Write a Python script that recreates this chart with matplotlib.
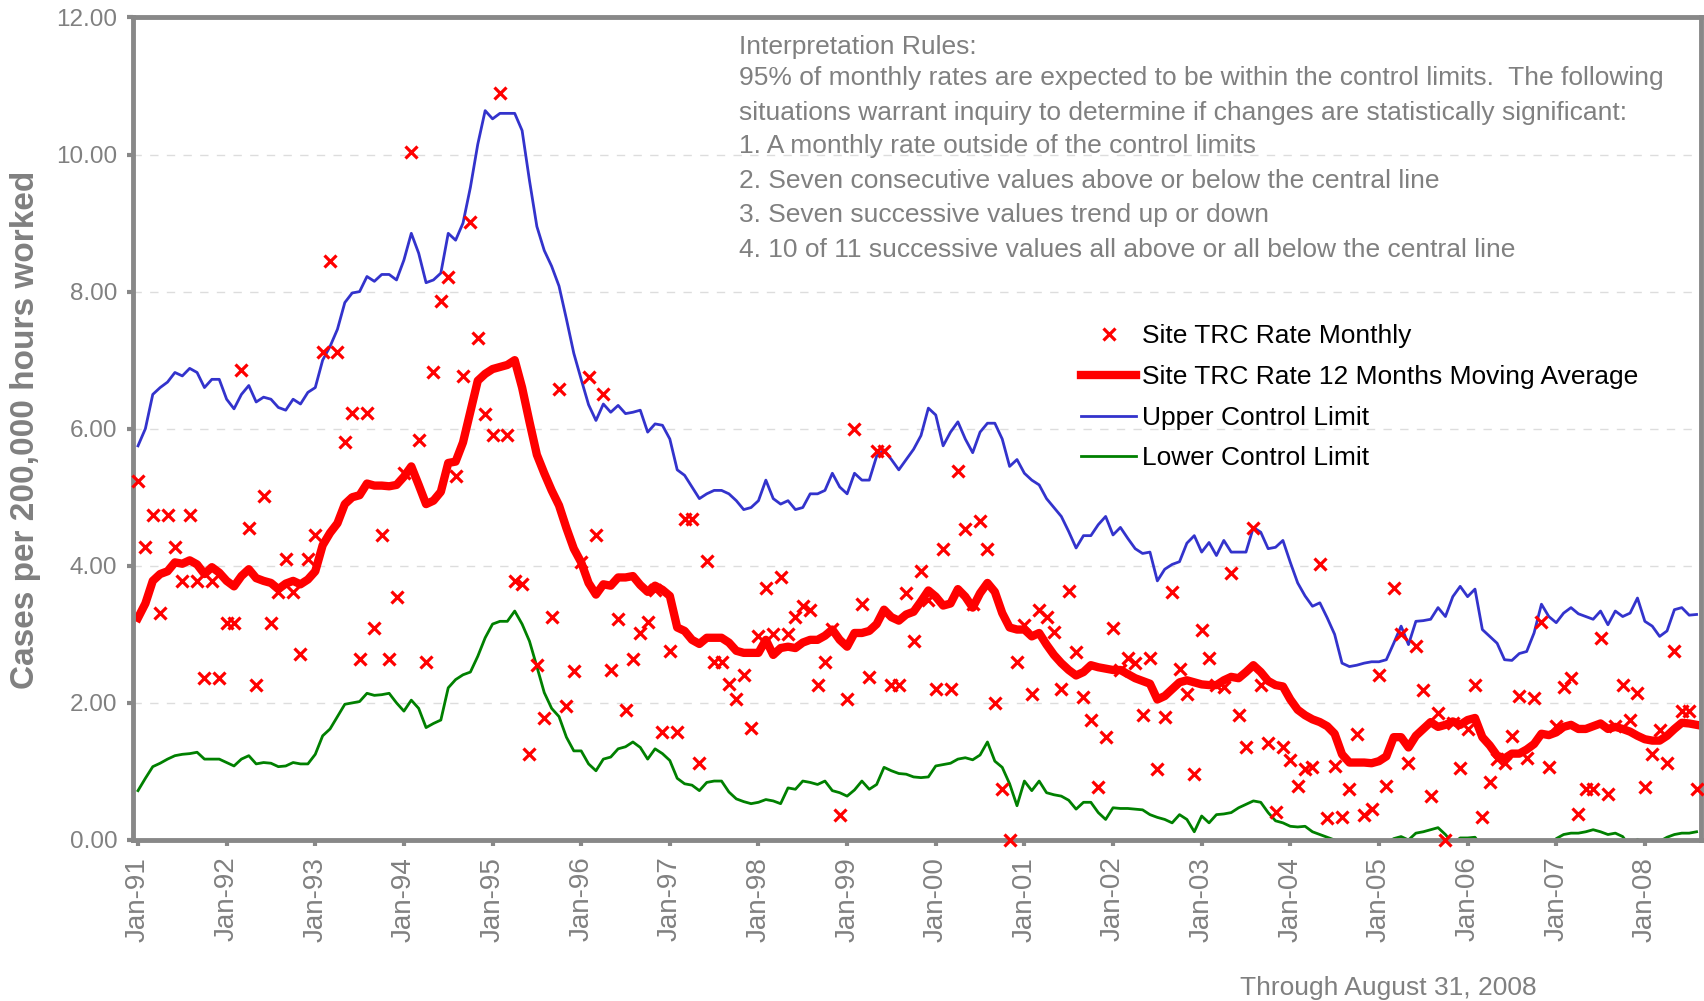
import matplotlib
matplotlib.use('Agg')
import matplotlib.pyplot as plt
import numpy as np

plt.rcParams['font.family'] = ['Liberation Sans', 'DejaVu Sans']

# monthly values, Jan-91 .. Aug-08 (one row per year)
monthly_rate = [
    5.23, 4.27, 4.74, 3.31, 4.74, 4.27, 3.78, 4.74, 3.78, 2.36, 3.78, 2.36,
    3.17, 3.17, 6.85, 4.55, 2.26, 5.02, 3.17, 3.62, 4.10, 3.62, 2.72, 4.10,
    4.45, 7.12, 8.45, 7.12, 5.81, 6.23, 2.64, 6.23, 3.09, 4.45, 2.64, 3.54,
    5.35, 10.04, 5.84, 2.59, 6.82, 7.87, 8.22, 5.31, 6.77, 9.02, 7.33, 6.22,
    5.91, 10.89, 5.91, 3.78, 3.73, 1.26, 2.55, 1.78, 3.26, 6.58, 1.95, 2.46,
    4.06, 6.75, 4.45, 6.50, 2.48, 3.22, 1.90, 2.64, 3.02, 3.18, 3.65, 1.57,
    2.76, 1.57, 4.69, 4.69, 1.12, 4.07, 2.59, 2.59, 2.28, 2.06, 2.41, 1.64,
    2.98, 3.67, 3.00, 3.83, 3.00, 3.26, 3.42, 3.36, 2.26, 2.59, 3.08, 0.36,
    2.05, 6.00, 3.45, 2.38, 5.67, 5.67, 2.26, 2.26, 3.60, 2.91, 3.93, 3.50,
    2.21, 4.25, 2.21, 5.38, 4.53, 3.45, 4.66, 4.25, 2.00, 0.74, 0.00, 2.59,
    3.13, 2.13, 3.35, 3.25, 3.03, 2.21, 3.63, 2.74, 2.08, 1.75, 0.77, 1.50,
    3.09, 2.48, 2.65, 2.58, 1.82, 2.65, 1.03, 1.79, 3.62, 2.50, 2.13, 0.96,
    3.07, 2.65, 2.26, 2.23, 3.89, 1.83, 1.36, 4.55, 2.26, 1.41, 0.41, 1.36,
    1.17, 0.79, 1.03, 1.07, 4.02, 0.32, 1.08, 0.33, 0.74, 1.55, 0.37, 0.45,
    2.41, 0.79, 3.68, 3.01, 1.12, 2.83, 2.19, 0.64, 1.85, 0.00, 1.71, 1.05,
    1.62, 2.26, 0.33, 0.84, 1.18, 1.13, 1.52, 2.10, 1.20, 2.07, 3.18, 1.07,
    1.66, 2.23, 2.36, 0.38, 0.74, 0.74, 2.95, 0.67, 1.67, 2.26, 1.75, 2.15,
    0.77, 1.25, 1.60, 1.13, 2.76, 1.88, 1.88, 0.74,
]

moving_avg = [
    3.24, 3.45, 3.78, 3.88, 3.92, 4.05, 4.03, 4.08, 4.02, 3.88, 3.98, 3.90,
    3.78, 3.70, 3.85, 3.95, 3.82, 3.78, 3.75, 3.66, 3.74, 3.78, 3.73, 3.80,
    3.92, 4.30, 4.48, 4.62, 4.90, 5.00, 5.03, 5.20, 5.17, 5.17, 5.16, 5.18,
    5.30, 5.45, 5.18, 4.90, 4.95, 5.08, 5.50, 5.52, 5.80, 6.25, 6.70, 6.80,
    6.87, 6.90, 6.93, 7.00, 6.60, 6.10, 5.62, 5.35, 5.10, 4.88, 4.55, 4.25,
    4.05, 3.75, 3.58, 3.73, 3.71, 3.83, 3.83, 3.85, 3.72, 3.62, 3.71, 3.65,
    3.56, 3.10, 3.05, 2.92, 2.86, 2.95, 2.95, 2.95, 2.88, 2.76, 2.73, 2.73,
    2.73, 2.92, 2.70, 2.80, 2.82, 2.80, 2.88, 2.92, 2.92, 2.98, 3.07, 2.92,
    2.82, 3.02, 3.02, 3.05, 3.15, 3.36, 3.25, 3.20, 3.29, 3.33, 3.48, 3.64,
    3.55, 3.42, 3.45, 3.66, 3.55, 3.39, 3.60, 3.75, 3.62, 3.31, 3.10, 3.07,
    3.07, 2.97, 3.02, 2.85, 2.70, 2.58, 2.48, 2.40, 2.45, 2.55, 2.52, 2.50,
    2.48, 2.48, 2.42, 2.36, 2.32, 2.28, 2.05, 2.10, 2.20, 2.30, 2.33, 2.30,
    2.27, 2.26, 2.26, 2.33, 2.38, 2.36, 2.45, 2.55, 2.45, 2.32, 2.26, 2.24,
    2.05, 1.90, 1.82, 1.76, 1.72, 1.66, 1.55, 1.25, 1.13, 1.13, 1.13, 1.12,
    1.15, 1.22, 1.50, 1.50, 1.35, 1.52, 1.62, 1.72, 1.65, 1.68, 1.73, 1.68,
    1.75, 1.78, 1.50, 1.38, 1.23, 1.19, 1.26, 1.26, 1.32, 1.40, 1.55, 1.53,
    1.57, 1.65, 1.68, 1.62, 1.62, 1.66, 1.70, 1.62, 1.65, 1.62, 1.58, 1.52,
    1.47, 1.45, 1.45, 1.52, 1.62, 1.71, 1.70, 1.68,
]

ucl = [
    5.75, 6.00, 6.50, 6.60, 6.68, 6.82, 6.77, 6.88, 6.82, 6.60, 6.72, 6.72,
    6.43, 6.29, 6.50, 6.63, 6.39, 6.46, 6.43, 6.31, 6.27, 6.43, 6.36, 6.53,
    6.60, 7.00, 7.20, 7.45, 7.84, 7.98, 8.00, 8.22, 8.15, 8.25, 8.25, 8.17,
    8.46, 8.85, 8.56, 8.13, 8.17, 8.27, 8.85, 8.75, 9.00, 9.52, 10.15, 10.64,
    10.52, 10.60, 10.60, 10.60, 10.35, 9.62, 8.95, 8.60, 8.37, 8.08, 7.60, 7.10,
    6.72, 6.35, 6.12, 6.36, 6.24, 6.34, 6.22, 6.24, 6.27, 5.95, 6.07, 6.05,
    5.85, 5.40, 5.32, 5.15, 4.98, 5.05, 5.10, 5.10, 5.05, 4.95, 4.82, 4.85,
    4.95, 5.25, 4.98, 4.90, 4.95, 4.82, 4.85, 5.05, 5.05, 5.10, 5.35, 5.15,
    5.05, 5.35, 5.25, 5.25, 5.60, 5.69, 5.55, 5.40, 5.55, 5.70, 5.90, 6.30,
    6.20, 5.75, 5.95, 6.10, 5.85, 5.65, 5.95, 6.08, 6.08, 5.85, 5.45, 5.55,
    5.35, 5.25, 5.18, 4.98, 4.85, 4.72, 4.50, 4.26, 4.44, 4.44, 4.60, 4.72,
    4.45, 4.56, 4.40, 4.25, 4.18, 4.20, 3.78, 3.95, 4.02, 4.06, 4.33, 4.44,
    4.20, 4.34, 4.15, 4.37, 4.20, 4.20, 4.20, 4.56, 4.49, 4.25, 4.27, 4.37,
    4.05, 3.75, 3.56, 3.41, 3.46, 3.24, 3.00, 2.58, 2.53, 2.55, 2.58, 2.60,
    2.60, 2.63, 2.87, 3.12, 2.85, 3.19, 3.20, 3.22, 3.39, 3.26, 3.55, 3.70,
    3.55, 3.66, 3.07, 2.97, 2.87, 2.63, 2.62, 2.72, 2.75, 3.02, 3.44, 3.26,
    3.17, 3.31, 3.39, 3.30, 3.26, 3.22, 3.34, 3.14, 3.34, 3.26, 3.31, 3.53,
    3.19, 3.12, 2.97, 3.05, 3.36, 3.39, 3.28, 3.29,
]

lcl = [
    0.72, 0.90, 1.07, 1.12, 1.18, 1.23, 1.25, 1.26, 1.28, 1.18, 1.18, 1.18,
    1.13, 1.08, 1.18, 1.23, 1.11, 1.13, 1.12, 1.07, 1.08, 1.13, 1.11, 1.11,
    1.25, 1.52, 1.62, 1.80, 1.98, 2.00, 2.02, 2.14, 2.11, 2.12, 2.14, 2.00,
    1.88, 2.04, 1.92, 1.64, 1.70, 1.75, 2.22, 2.34, 2.41, 2.45, 2.68, 2.95,
    3.15, 3.19, 3.19, 3.34, 3.15, 2.90, 2.53, 2.15, 1.92, 1.80, 1.50, 1.30,
    1.30, 1.11, 1.01, 1.18, 1.21, 1.33, 1.36, 1.43, 1.35, 1.18, 1.33, 1.26,
    1.16, 0.90, 0.82, 0.80, 0.72, 0.84, 0.86, 0.86, 0.70, 0.60, 0.56, 0.53,
    0.55, 0.59, 0.57, 0.53, 0.76, 0.74, 0.86, 0.84, 0.81, 0.86, 0.72, 0.69,
    0.64, 0.73, 0.86, 0.74, 0.81, 1.06, 1.01, 0.97, 0.96, 0.92, 0.91, 0.92,
    1.08, 1.10, 1.12, 1.18, 1.20, 1.17, 1.24, 1.43, 1.15, 1.06, 0.82, 0.50,
    0.86, 0.72, 0.86, 0.69, 0.66, 0.64, 0.58, 0.45, 0.55, 0.55, 0.40, 0.30,
    0.47, 0.46, 0.46, 0.45, 0.44, 0.37, 0.33, 0.30, 0.25, 0.37, 0.30, 0.12,
    0.35, 0.25, 0.37, 0.38, 0.40, 0.47, 0.52, 0.57, 0.55, 0.40, 0.28, 0.25,
    0.20, 0.19, 0.20, 0.12, 0.08, 0.04, 0.00, -0.10, -0.12, -0.10, -0.12, -0.15,
    -0.10, -0.05, 0.02, 0.05, 0.00, 0.10, 0.12, 0.15, 0.18, 0.08, -0.05, 0.03,
    0.03, 0.04, -0.10, -0.15, -0.20, -0.25, -0.20, -0.15, -0.05, -0.10, -0.20, -0.15,
    0.02, 0.08, 0.10, 0.10, 0.12, 0.15, 0.12, 0.08, 0.10, 0.05, -0.10, 0.01,
    -0.05, -0.10, -0.02, 0.04, 0.08, 0.10, 0.10, 0.12,
]

year_labels = ['Jan-91', 'Jan-92', 'Jan-93', 'Jan-94', 'Jan-95', 'Jan-96',
               'Jan-97', 'Jan-98', 'Jan-99', 'Jan-00', 'Jan-01', 'Jan-02',
               'Jan-03', 'Jan-04', 'Jan-05', 'Jan-06', 'Jan-07', 'Jan-08']

rules = [
    'Interpretation Rules:',
    '95% of monthly rates are expected to be within the control limits.  The following',
    'situations warrant inquiry to determine if changes are statistically significant:',
    '1. A monthly rate outside of the control limits',
    '2. Seven consecutive values above or below the central line',
    '3. Seven successive values trend up or down',
    '4. 10 of 11 successive values all above or all below the central line',
]

GRAY = '#808080'
W, H = 1704, 1001

fig = plt.figure(figsize=(W / 100, H / 100), dpi=100)
ax = fig.add_axes([132.6 / W, 1 - 840 / H, (1701 - 132.6) / W, (840 - 17.4) / H])

months = np.arange(len(monthly_rate))

l_lcl, = ax.plot(months, lcl, color='#008000', lw=2, zorder=2)
l_ucl, = ax.plot(months, ucl, color='#3333CC', lw=2, zorder=2)
l_ma, = ax.plot(months, moving_avg, color='#FF0000', lw=6, zorder=3)
l_pts, = ax.plot(months, monthly_rate, ls='none', marker='x', color='#FF0000',
                 ms=8, mew=2.3, zorder=5, clip_on=False)

ax.set_xlim(-0.73, 211.6)
ax.set_ylim(0, 12)
ax.set_yticks(np.arange(0, 12.1, 2))
ax.set_yticklabels([f'{v:.2f}' for v in np.arange(0, 12.1, 2)])
ax.set_xticks(np.arange(len(year_labels)) * 12)
ax.set_xticklabels(year_labels, rotation=90)

ax.yaxis.grid(True, linestyle=(0, (6, 6)), color='#dddddd', lw=1)
ax.set_axisbelow(True)
for sp in ax.spines.values():
    sp.set_color('#888888')
    sp.set_linewidth(3.5)
    sp.set_zorder(4)
ax.tick_params(axis='both', colors='#888888', labelcolor=GRAY, length=4, width=3)
ax.tick_params(axis='y', pad=7, labelsize=17.5)
ax.tick_params(axis='x', pad=8, labelsize=20)

ax.legend([l_pts, l_ma, l_ucl, l_lcl],
          ['Site TRC Rate Monthly', 'Site TRC Rate 12 Months Moving Average',
           'Upper Control Limit', 'Lower Control Limit'],
          loc='upper left', bbox_to_anchor=(1081 / W, 1 - 324.5 / H),
          bbox_transform=fig.transFigure, frameon=False, fontsize=19,
          handlelength=2.1, handletextpad=0.2, labelspacing=0.63,
          borderpad=0, borderaxespad=0)

baselines = [53.6, 85, 120, 153.5, 188, 222, 257]
for line, yb in zip(rules, baselines):
    fig.text(739 / W, 1 - yb / H, line, ha='left', va='baseline', fontsize=19, color=GRAY)

fig.text(26 / W, 1 - 430 / H, 'Cases per 200,000 hours worked', rotation=90,
         ha='center', va='center', fontsize=24, fontweight='bold', color=GRAY)
fig.text(1388 / W, 1 - 995 / H, 'Through August 31, 2008', ha='center',
         va='baseline', fontsize=19, color=GRAY)

fig.savefig('out.png', dpi=100)
